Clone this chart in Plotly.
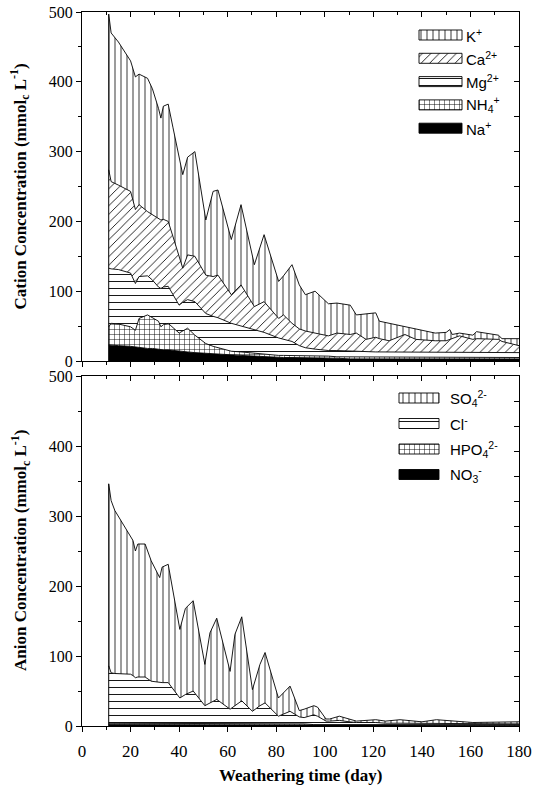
import plotly.graph_objects as go

W, H = 534, 788
ML, MR, MT, MB = 82, 15, 12, 62

# ---------------- data ----------------
cation_days = [11, 12, 15, 20, 22, 23.5, 27, 29, 31.5, 32.5,
               33.5, 35.5, 37.5, 40, 41.5, 43.5, 46.5, 51, 54, 56,
               61.5, 65.5, 71, 75, 81, 83, 86.5, 89.5, 92, 96,
               101.5, 105, 110.5, 113, 117, 121, 122.5, 126.5, 133, 137.5,
               145.5, 150, 151.5, 152.5, 155.5, 161, 162.5, 171.5, 173, 180]
na = [23, 23, 22, 21, 20, 20, 18, 18, 17, 16,
      16, 16, 15, 14, 13, 13, 12, 11, 10, 10,
      8, 8, 7, 6, 5, 5, 5, 5, 4, 4,
      4, 4, 3, 3, 3, 3, 3, 3, 3, 3,
      3, 3, 3, 3, 3, 3, 3, 3, 3, 3]
nh4 = [26, 31, 31, 28, 24, 41, 48, 44, 40, 33,
       36, 38, 33, 26, 30, 34, 25, 14, 11, 9,
       6, 5, 4, 4, 3, 3, 3, 3, 4, 3,
       3, 2, 3, 3, 3, 3, 3, 2, 2, 2,
       2, 2, 2, 2, 2, 2, 2, 2, 2, 2]
mg = [84, 78, 78, 77, 67, 60, 56, 54, 49, 55,
      54, 53, 47, 40, 41, 41, 48, 43, 43, 43,
      40, 37, 33, 31, 25, 23, 20, 14, 11, 10,
      8, 9, 8, 8, 7, 7, 7, 8, 8, 7,
      7, 7, 7, 7, 7, 7, 7, 7, 7, 7]
ca = [141, 125, 121, 117, 106, 103, 92, 94, 98, 98,
      97, 93, 83, 70, 49, 64, 65, 55, 57, 61,
      41, 59, 34, 44, 28, 35, 26, 24, 24, 23,
      21, 25, 24, 26, 18, 21, 19, 16, 25, 19,
      17, 17, 19, 21, 24, 19, 20, 19, 16, 10]
k = [223, 213, 205, 187, 190, 187, 191, 180, 158, 146,
     162, 168, 156, 141, 134, 140, 150, 79, 122, 122,
     79, 115, 60, 96, 53, 56, 84, 63, 52, 60,
     46, 43, 42, 26, 36, 35, 25, 25, 11, 14,
     11, 12, 14, 5, 4, 6, 10, 6, 4, 10]

anion_days = [11, 12, 13.5, 16, 20, 21, 22, 23, 26, 28.5,
              32, 33, 35.5, 40.3, 42.6, 45.8, 50.6, 52.7, 55.5,
              61, 63, 65.8, 70.2, 73.3, 75.4, 80.9, 85.7, 89.5, 91.5,
              95.5, 97, 100.5, 102, 106, 110, 113, 121, 125, 131,
              140, 146, 155, 161, 180]
no3 = [2] * 19 + [1] * 25
hpo4 = [2] * 29 + [1] * 15
cl = [82, 72, 71, 71, 70, 68, 65, 66, 66, 60,
      58, 58, 58, 36, 41, 46, 25, 29, 34,
      21, 26, 33, 18, 26, 30, 11, 18, 10, 9,
      14, 12, 5, 5, 6, 4, 3, 3, 2, 2,
      2, 2, 2, 1, 1]
so4 = [260, 246, 233, 218, 196, 193, 181, 190, 190, 172,
       150, 165, 169, 98, 123, 129, 59, 100, 116,
       54, 102, 120, 31, 59, 72, 26, 36, 9, 12,
       13, 13, 3, 3, 6, 4, 2, 4, 3, 5,
       2, 5, 3, 2, 3]

x_ticks = list(range(0, 181, 20))
y_ticks = list(range(0, 501, 100))

# ---------------- styles ----------------
SERIF = "Liberation Serif, Times New Roman, serif"
SANS = "Liberation Sans, Arial, sans-serif"


def pat(shape, size, sol=0.14):
    return dict(shape=shape, size=size, solidity=sol, fgcolor="black",
                bgcolor="white", fillmode="replace")


cation_series = [
    ("Na<sup>+</sup>", na, None),
    ("NH<sub>4</sub><sup>+</sup>", nh4, pat("+", 5, 0.18)),
    ("Mg<sup>2+</sup>", mg, pat("-", 7, 0.13)),
    ("Ca<sup>2+</sup>", ca, pat("/", 6, 0.14)),
    ("K<sup>+</sup>", k, pat("|", 6, 0.13)),
]
anion_series = [
    ("NO<sub>3</sub><sup>-</sup>", no3, None),
    ("HPO<sub>4</sub><sup>2-</sup>", hpo4, pat("+", 5, 0.18)),
    ("Cl<sup>-</sup>", cl, pat("-", 7, 0.13)),
    ("SO<sub>4</sub><sup>2-</sup>", so4, pat("|", 6, 0.13)),
]

fig = go.Figure()


def add_stack(days, series, xa, ya, group):
    for name, vals, p in series:
        kw = dict(fillcolor="black") if p is None else dict(fillpattern=p, fillcolor="white")
        fig.add_trace(go.Scatter(x=days, y=vals, stackgroup=group, mode="lines",
                                 line=dict(color="black", width=0.9),
                                 name=name, showlegend=False, hoverinfo="skip",
                                 xaxis=xa, yaxis=ya, **kw))
    total0 = sum(s[1][0] for s in series)
    fig.add_trace(go.Scatter(x=[days[0], days[0]], y=[0, total0], mode="lines",
                             line=dict(color="black", width=1), showlegend=False,
                             hoverinfo="skip", xaxis=xa, yaxis=ya))


add_stack(cation_days, cation_series, "x", "y", "cat")
add_stack(anion_days, anion_series, "x2", "y2", "an")

# empty traces so overlay axes (mirrored inside ticks) are drawn
for xa, ya in [("x3", "y"), ("x", "y3"), ("x4", "y2"), ("x2", "y4")]:
    fig.add_trace(go.Scatter(x=[None], y=[None], xaxis=xa, yaxis=ya,
                             showlegend=False, hoverinfo="skip"))

# ---------------- custom legends (pixel axes) ----------------
plot_w = W - ML - MR
plot_h = H - MT - MB


def add_legend(series, x0, sw_w, sw_h, y_first, row, text_gap):
    for i, (name, vals, p) in enumerate(reversed(series)):
        yc = y_first + i * row
        xs = [x0, x0 + sw_w, x0 + sw_w, x0, x0]
        ys = [yc - sw_h / 2, yc - sw_h / 2, yc + sw_h / 2, yc + sw_h / 2, yc - sw_h / 2]
        kw = dict(fillcolor="black") if p is None else dict(fillpattern=p, fillcolor="white")
        fig.add_trace(go.Scatter(x=xs, y=ys, fill="toself", mode="lines",
                                 line=dict(color="black", width=0.9),
                                 showlegend=False, hoverinfo="skip",
                                 xaxis="x5", yaxis="y5", **kw))
        fig.add_annotation(x=x0 + sw_w + text_gap, y=yc, xref="x5", yref="y5",
                           text=name, showarrow=False, xanchor="left", yanchor="middle",
                           font=dict(family=SANS, size=15, color="black"))


add_legend(cation_series, 419, 43, 10, 35, 23.3, 2)
add_legend(anion_series, 399, 40, 10, 398, 25.5, 9)

# ---------------- layout ----------------
top_dom = [(H - MB - 361) / plot_h, 1.0]
bot_dom = [0.0, (H - MB - 376) / plot_h]

axis_common = dict(showgrid=False, zeroline=False, color="black", automargin=False)
xbase = dict(range=[0, 180], tickvals=x_ticks, ticks="outside", ticklen=5, tickwidth=1,
             minor=dict(dtick=10, tick0=0, ticks="outside", ticklen=3, tickwidth=1),
             showline=True, linewidth=1.3, linecolor="black", mirror=True, **axis_common)
ybase = dict(range=[0, 500], tickvals=y_ticks, ticks="outside", ticklen=5, tickwidth=1,
             minor=dict(dtick=50, tick0=0, ticks="outside", ticklen=3, tickwidth=1),
             showline=True, linewidth=1.3, linecolor="black", mirror=True,
             tickfont=dict(family=SERIF, size=16, color="black"), **axis_common)

fig.update_layout(
    width=W, height=H,
    margin=dict(l=ML, r=MR, t=MT, b=MB, pad=0, autoexpand=False),
    paper_bgcolor="white", plot_bgcolor="rgba(0,0,0,0)",
    showlegend=False,
    xaxis=dict(domain=[0, 1], anchor="y", showticklabels=False, **xbase),
    yaxis=dict(domain=top_dom, anchor="x", **ybase),
    xaxis2=dict(domain=[0, 1], anchor="y2", showticklabels=True,
                tickfont=dict(family=SERIF, size=17, color="black"),
                ticklabelstandoff=4, **xbase),
    yaxis2=dict(domain=bot_dom, anchor="x2", **ybase),
    xaxis3=dict(overlaying="x", anchor="y", side="top", range=[0, 180], tickvals=x_ticks,
                ticks="inside", ticklen=5, minor=dict(dtick=10, tick0=0, ticks="inside", ticklen=3),
                showticklabels=False, showline=False, **axis_common),
    xaxis4=dict(overlaying="x2", anchor="y2", side="top", range=[0, 180], tickvals=x_ticks,
                ticks="inside", ticklen=5, minor=dict(dtick=10, tick0=0, ticks="inside", ticklen=3),
                showticklabels=False, showline=False, **axis_common),
    yaxis3=dict(overlaying="y", anchor="x", side="right", range=[0, 500], dtick=50, tick0=0,
                ticks="inside", ticklen=5, showticklabels=False, showline=False, **axis_common),
    yaxis4=dict(overlaying="y2", anchor="x2", side="right", range=[0, 700], dtick=50, tick0=0,
                ticks="inside", ticklen=5, showticklabels=False, showline=False, **axis_common),
    xaxis5=dict(domain=[0, 1], anchor="y5", range=[ML, W - MR], visible=False,
                fixedrange=True, automargin=False),
    yaxis5=dict(domain=[0, 1], anchor="x5", range=[H - MB, MT], visible=False,
                fixedrange=True, automargin=False),
)

title_font = dict(family=SERIF, size=17, color="black")
fig.add_annotation(xref="paper", yref="paper", x=(20 - ML) / plot_w,
                   y=(top_dom[0] + top_dom[1]) / 2, textangle=-90, showarrow=False,
                   xanchor="center", yanchor="middle", font=title_font,
                   text="<b>Cation Concentration (mmol<sub>c</sub> L<sup>-1</sup>)</b>")
fig.add_annotation(xref="paper", yref="paper", x=(20 - ML) / plot_w,
                   y=(bot_dom[0] + bot_dom[1]) / 2, textangle=-90, showarrow=False,
                   xanchor="center", yanchor="middle", font=title_font,
                   text="<b>Anion Concentration (mmol<sub>c</sub> L<sup>-1</sup>)</b>")
fig.add_annotation(xref="paper", yref="paper", x=(300 - ML) / plot_w,
                   y=(H - MB - 775) / plot_h, showarrow=False,
                   xanchor="center", yanchor="middle", font=title_font,
                   text="<b>Weathering time (day)</b>")

fig.write_html("out.html")
